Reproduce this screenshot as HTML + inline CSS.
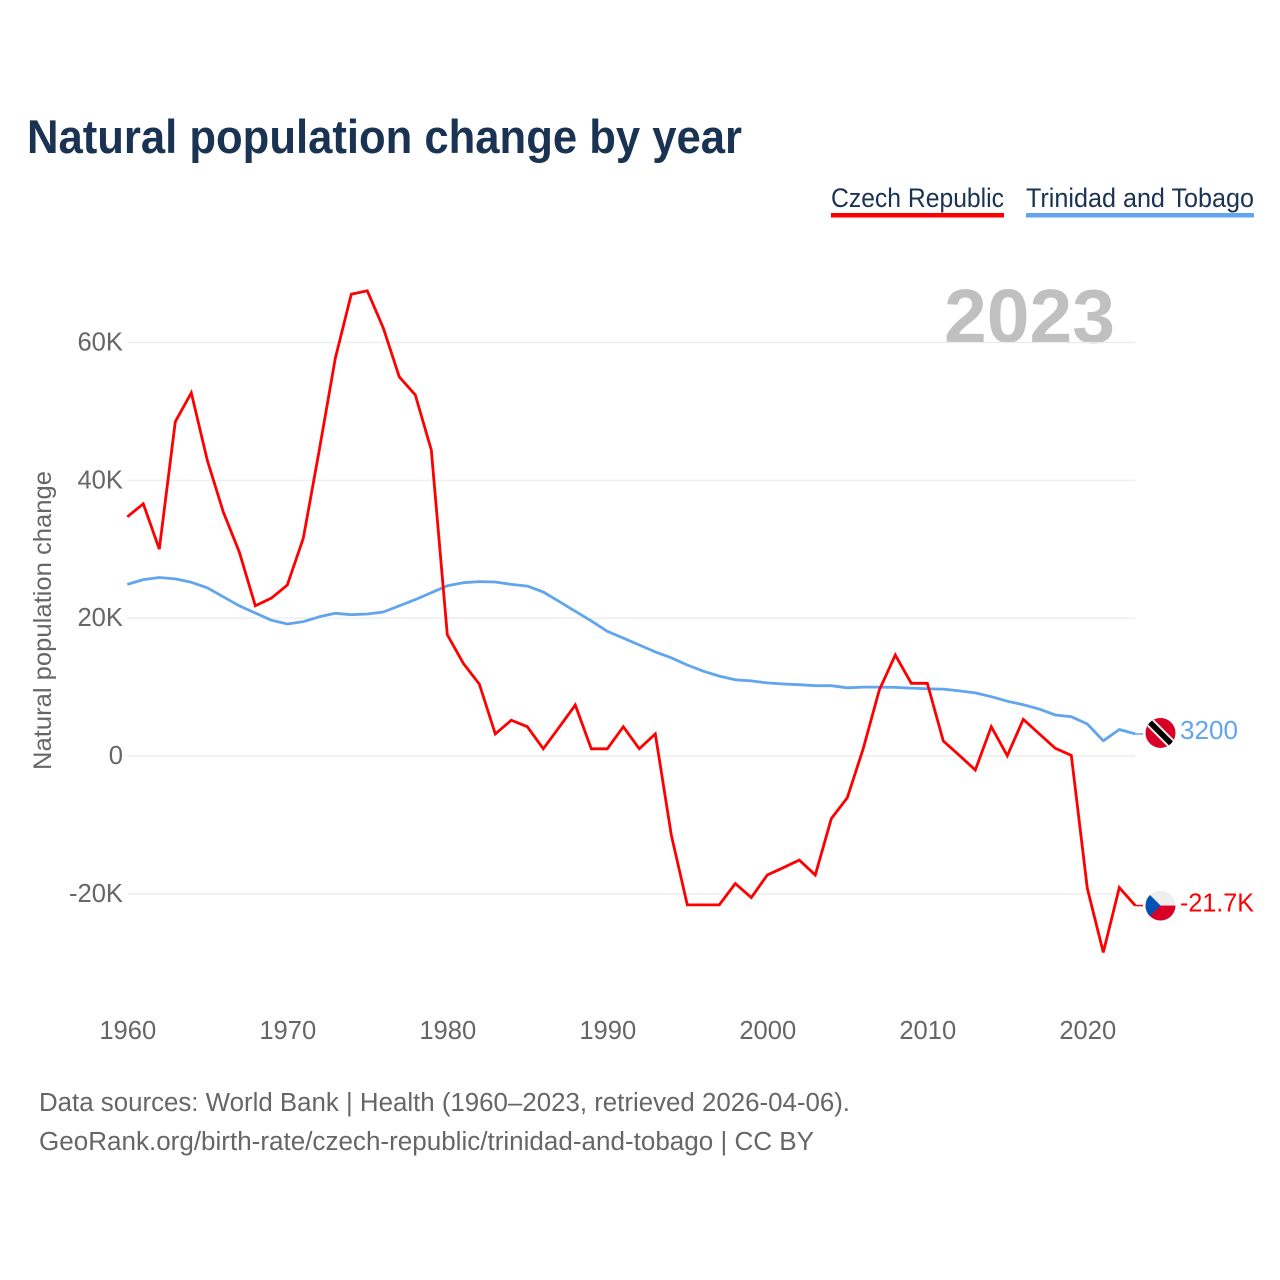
<!DOCTYPE html>
<html lang="en">
<head>
<meta charset="utf-8">
<title>Natural population change by year</title>
<style>
html,body{margin:0;padding:0;background:#fff;}
svg{display:block;font-family:"Liberation Sans",sans-serif;}
</style>
</head>
<body>
<svg id="chart" xmlns="http://www.w3.org/2000/svg" width="1280" height="1280" viewBox="0 0 1280 1280">
  <defs>
    <clipPath id="flag-clip-cz"><circle id="clip-circle-cz" cx="0" cy="0" r="15"/></clipPath>
    <clipPath id="flag-clip-tt"><circle id="clip-circle-tt" cx="0" cy="0" r="15"/></clipPath>
  </defs>
  <rect width="1280" height="1280" fill="#ffffff"/>
  <text x="27" y="153" font-size="47" font-weight="700" fill="#1a3352" textLength="715" lengthAdjust="spacingAndGlyphs">Natural population change by year</text>

  <text x="831" y="207" font-size="27" fill="#1a3352" textLength="173" lengthAdjust="spacingAndGlyphs">Czech Republic</text>
  <rect x="831" y="213" width="173" height="4.5" fill="#ff0000"/>
  <text x="1026" y="207" font-size="27" fill="#1a3352" textLength="228" lengthAdjust="spacingAndGlyphs">Trinidad and Tobago</text>
  <rect x="1026" y="213" width="228" height="4.5" fill="#61a5ee"/>

  <text x="944" y="342.5" font-size="76" font-weight="700" fill="#c0c0c0" textLength="171" lengthAdjust="spacingAndGlyphs">2023</text>

  <g id="grid"></g>
  <g id="y-ticks"></g>
  <g id="x-ticks"></g>

  <text transform="translate(51 620.5) rotate(-90)" text-anchor="middle" font-size="25" fill="#666666" textLength="299" lengthAdjust="spacingAndGlyphs">Natural population change</text>

  <g id="series"></g>
  <g id="end-markers"></g>

  <text x="39" y="1111" font-size="25.5" fill="#666666" textLength="811" lengthAdjust="spacingAndGlyphs">Data sources: World Bank | Health (1960–2023, retrieved 2026-04-06).</text>
  <text x="39" y="1150" font-size="25.5" fill="#666666" textLength="775" lengthAdjust="spacingAndGlyphs">GeoRank.org/birth-rate/czech-republic/trinidad-and-tobago | CC BY</text>
</svg>
<script>
const firstYear = 1960;
const czechValues = [
  34.7,36.6,30.0,48.5,52.7,42.9,35.4,29.6,21.8,22.9,
  24.8,31.6,44.4,57.7,67.0,67.5,62.1,55.0,52.4,44.4,
  17.6,13.45,10.45,3.2,5.2,4.25,1.05,4.2,7.4,1.05,
  1.05,4.25,1.05,3.2,-11.46,-21.6,-21.6,-21.6,-18.5,-20.55,
  -17.27,-16.2,-15.1,-17.27,-9.1,-6.05,1.1,9.58,14.65,10.55,
  10.55,2.18,0.1,-2.03,4.25,0.04,5.32,3.2,1.12,0.1,
  -19.2,-28.5,-19.1,-21.7
];
const trinidadValues = [
  24.9,25.6,25.9,25.7,25.2,24.4,23.1,21.8,20.75,19.7,
  19.15,19.5,20.2,20.7,20.5,20.6,20.9,21.8,22.7,23.7,
  24.7,25.15,25.3,25.25,24.9,24.65,23.8,22.4,21.0,19.6,
  18.1,17.1,16.1,15.1,14.25,13.2,12.3,11.6,11.05,10.9,
  10.6,10.45,10.35,10.2,10.2,9.9,10.0,10.0,9.95,9.85,
  9.75,9.7,9.45,9.15,8.6,7.95,7.45,6.8,5.95,5.7,
  4.65,2.2,3.85,3.2
];
const yTickValues = [60,40,20,0,-20];
const yTickLabels = ["60K","40K","20K","0","-20K"];
const xTickYears = [1960,1970,1980,1990,2000,2010,2020];
const endValueLabels = ["-21.7K","3200"];

const NS = "http://www.w3.org/2000/svg";
function xScale(year){ return 127.3 + (year - 1960) * 16; }
function yScale(v){ return 756 - v * 6.892; }
function make(tag, attrs, parent){
  const el = document.createElementNS(NS, tag);
  for (const k in attrs) el.setAttribute(k, attrs[k]);
  parent.appendChild(el);
  return el;
}

const gridG = document.getElementById("grid");
const yG = document.getElementById("y-ticks");
yTickValues.forEach(function(v, i){
  const ln = make("line", {x1:xScale(1960), x2:xScale(firstYear + czechValues.length - 1), y1:yScale(v), y2:yScale(v), stroke:"#ebebeb", "stroke-width":1.2}, gridG);
  
  
  const t = make("text", {x:123, y:yScale(v) + 8, "text-anchor":"end", "font-size":25.6, fill:"#666666"}, yG);
  
  
  t.textContent = yTickLabels[i];
});

const xG = document.getElementById("x-ticks");
xTickYears.forEach(function(yr){
  const t = make("text", {x:xScale(yr) + 0.5, y:1039, "text-anchor":"middle", "font-size":25.6, fill:"#666666"}, xG);
  
  
  t.textContent = yr;
});

function linePoints(values){
  return values.map(function(v, i){ return xScale(firstYear + i).toFixed(1) + "," + yScale(v).toFixed(1); }).join(" ");
}
const seriesG = document.getElementById("series");
const blueLine = make("polyline", {points:linePoints(trinidadValues), fill:"none", stroke:"#61a5ee", "stroke-width":2.8, "stroke-linejoin":"round"}, seriesG);


const redLine = make("polyline", {points:linePoints(czechValues), fill:"none", stroke:"#ff0000", "stroke-width":2.8, "stroke-linejoin":"miter"}, seriesG);



const endG = document.getElementById("end-markers");
const lastX = xScale(firstYear + czechValues.length - 1);
const flagX = 1160.5;

/* Czech Republic marker */
const czY = yScale(czechValues[czechValues.length - 1]);
const czLine = make("line", {x1:lastX, x2:1143, y1:czY, y2:czY, stroke:"#ff0000", "stroke-width":1.5}, endG);


const clipCz = document.getElementById("clip-circle-cz");
clipCz.setAttribute("cx", flagX);
clipCz.setAttribute("cy", czY);
const czFlag = make("g", {"clip-path":"url(#flag-clip-cz)"}, endG);


make("rect", {x:flagX-15, y:czY-15, width:30, height:15, fill:"#eeeeee"}, czFlag);
make("rect", {x:flagX-15, y:czY, width:30, height:15, fill:"#d80027"}, czFlag);
make("polygon", {points:(flagX-15)+","+(czY-15)+" "+(flagX-15)+","+(czY+15)+" "+flagX+","+czY, fill:"#0052b4"}, czFlag);
const czLabel = make("text", {x:1180, y:czY + 6, "font-size":25.6, fill:"#ff0000", textLength:74, lengthAdjust:"spacingAndGlyphs"}, endG);


czLabel.textContent = endValueLabels[0];

/* Trinidad and Tobago marker */
const ttY = yScale(trinidadValues[trinidadValues.length - 1]);
const ttLine = make("line", {x1:lastX, x2:1143, y1:ttY, y2:ttY, stroke:"#61a5ee", "stroke-width":1.5}, endG);


const flagTY = ttY - 1;
const clipTt = document.getElementById("clip-circle-tt");
clipTt.setAttribute("cx", flagX);
clipTt.setAttribute("cy", flagTY);
const ttFlag = make("g", {"clip-path":"url(#flag-clip-tt)"}, endG);


make("rect", {x:flagX-15, y:flagTY-15, width:30, height:30, fill:"#d80027"}, ttFlag);
make("line", {x1:flagX-13, y1:flagTY-13, x2:flagX+13, y2:flagTY+13, stroke:"#eeeeee", "stroke-width":9.5}, ttFlag);
make("line", {x1:flagX-15, y1:flagTY-15, x2:flagX+15, y2:flagTY+15, stroke:"#000000", "stroke-width":5.5}, ttFlag);
const ttLabel = make("text", {x:1180, y:ttY + 5, "font-size":25.6, fill:"#61a5ee", textLength:58, lengthAdjust:"spacingAndGlyphs"}, endG);


ttLabel.textContent = endValueLabels[1];
</script>
</body>
</html>
